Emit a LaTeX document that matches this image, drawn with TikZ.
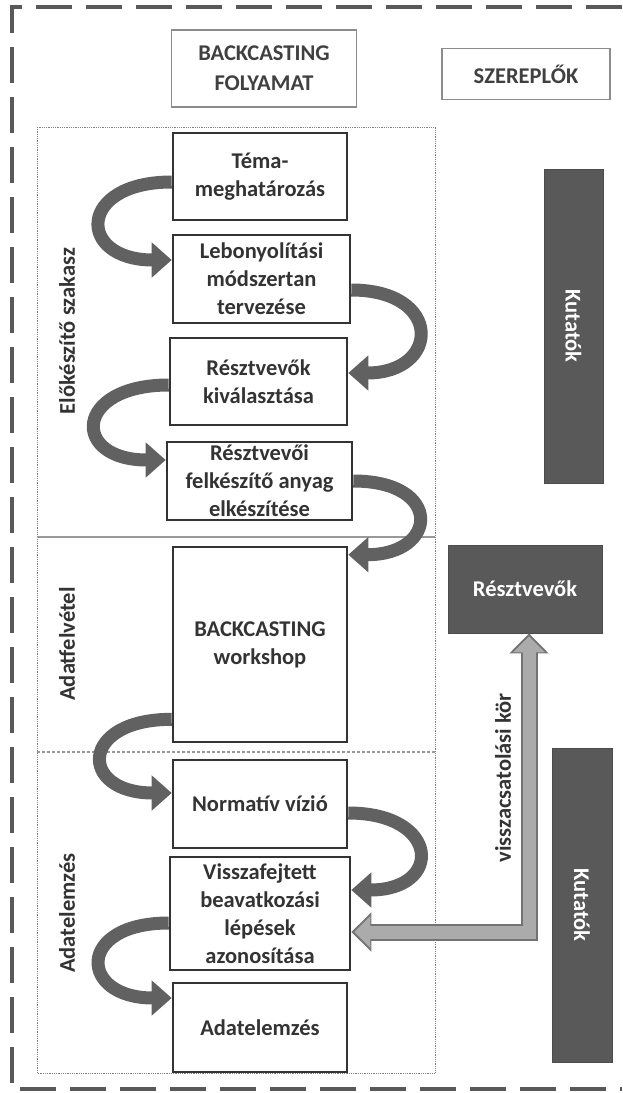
\documentclass[tikz,border=0pt]{standalone}
\usepackage{fontspec}
\setmainfont{Carlito}
\usetikzlibrary{arrows.meta}
\definecolor{actorgray}{HTML}{595959}
\definecolor{flowgray}{HTML}{616161}
\definecolor{fbgray}{HTML}{ABABAB}
\tikzset{
    stepbox/.style = {rectangle, draw=black!80, line width=2.6pt, align=center, inner sep=0pt, minimum width=174pt, text=black!80, font=\bfseries\fontsize{22.5}{28}\selectfont},
    headbox/.style = {rectangle, draw=black!45, line width=1.2pt, align=center, text=black!75, font=\bfseries\fontsize{22.5}{30}\selectfont},
    actorbox/.style = {rectangle, fill=actorgray, draw=black!70, line width=0.8pt, align=center, text=white, font=\bfseries\fontsize{22.5}{26}\selectfont},
    phase/.style = {rotate=90, text=black!80, font=\bfseries\fontsize{22.5}{26}\selectfont},
    edgec/.style = {line width=13pt, draw=flowgray, -{Triangle[length=20pt,width=34pt]}}, % step to step
    edgefo/.style = {line width=17pt, draw=black!55, line join=miter, {Triangle[length=20pt,width=38pt]}-{Triangle[length=20pt,width=38pt]}}, % feedback outline
    edgefi/.style = {line width=13pt, draw=fbgray, line join=miter, shorten <=3pt, shorten >=3pt, {Triangle[length=16pt,width=31pt]}-{Triangle[length=16pt,width=31pt]}} % feedback fill
}
\begin{document}
\begin{tikzpicture}[x=1pt, y=-1pt]
  \useasboundingbox (0,0) rectangle (622,1093);
  \draw[black!65, line width=3.5pt, dash pattern=on 36pt off 14pt] (622,7) -- (12,7) -- (12,1089) -- (622,1089);
  \draw[black!50, densely dotted, line width=0.8pt] (37,127) rectangle (435,1073);
  \draw[black!40, line width=1.5pt] (37,537) -- (435,537);
  \draw[black!40, line width=1.2pt, densely dashed] (37,752) -- (435,752);

  \node[headbox, minimum width=185pt, minimum height=77pt] (folyamat) at (264,68.5) {BACKCASTING\\FOLYAMAT};
  \node[headbox, minimum width=168pt, minimum height=51pt] (szerep) at (526,74) {SZEREPLŐK};

  \node[phase] (elok) at (67,331) {Előkészítő szakasz};
  \node[phase] (felvet) at (67,644) {Adatfelvétel};
  \node[phase] (elemz) at (67,913) {Adatelemzés};

  \node[stepbox, minimum height=87pt] (tema) at (260,176.5) {Téma-\\meghatározás};
  \node[stepbox, minimum width=177pt, minimum height=88pt] (lebo) at (261.5,279) {Lebonyolítási\\módszertan\\tervezése};
  \node[stepbox, minimum width=177pt, minimum height=87pt] (kival) at (258.5,381.5) {Résztvevők\\kiválasztása};
  \node[stepbox, minimum width=185pt, minimum height=78pt] (felk) at (259.5,481) {Résztvevői\\felkészítő anyag\\elkészítése};
  \node[stepbox, minimum height=195pt] (work) at (260,644.5) {BACKCASTING\\workshop};
  \node[stepbox, minimum height=88pt] (norm) at (260,804) {Normatív vízió};
  \node[stepbox, minimum width=180pt, minimum height=113pt] (vissza) at (260,913.5) {Visszafejtett\\beavatkozási\\lépések\\azonosítása};
  \node[stepbox, minimum height=89pt] (adat) at (260,1027.5) {Adatelemzés};

  \node[actorbox, rotate=-90, minimum width=314pt, minimum height=59pt] (kut1) at (573.5,326) {Kutatók};
  \node[actorbox, minimum width=154pt, minimum height=88pt] (resz) at (525,589) {Résztvevők};
  \node[actorbox, rotate=-90, minimum width=314pt, minimum height=60pt] (kut2) at (582,905) {Kutatók};

  \draw[edgec] ([yshift=-5.5pt]tema.west) .. controls +(-95,0) and +(-95,0) .. ([yshift=19pt]lebo.west);
  \draw[edgec] ([yshift=-11pt]lebo.east) .. controls +(92,0) and +(92,0) .. ([yshift=8.5pt]kival.east);
  \draw[edgec] ([yshift=-3.5pt]kival.west) .. controls +(-95,0) and +(-95,0) .. ([yshift=21pt]felk.west);
  \draw[edgec] (felk.east) .. controls +(90,0) and +(90,0) .. ([yshift=-9pt]work.north east);
  \draw[edgec] ([yshift=24pt]work.south west) .. controls +(-93,0) and +(-93,0) .. ([yshift=11pt]norm.west);
  \draw[edgec] ([yshift=-9pt]norm.east) .. controls +(92,0) and +(92,0) .. ([yshift=23.5pt]vissza.east);
  \draw[edgec] ([yshift=-9.5pt]vissza.west) .. controls +(-93,0) and +(-93,0) .. ([yshift=29.5pt]adat.west);

  \draw[edgefo] ([xshift=4pt]resz.south) |- ([yshift=-18.5pt]vissza.east);
  \draw[edgefi] ([xshift=4pt]resz.south) |- ([yshift=-18.5pt]vissza.east);
  \node[phase] (fblabel) at (503,778) {visszacsatolási kör};
\end{tikzpicture}
\end{document}
